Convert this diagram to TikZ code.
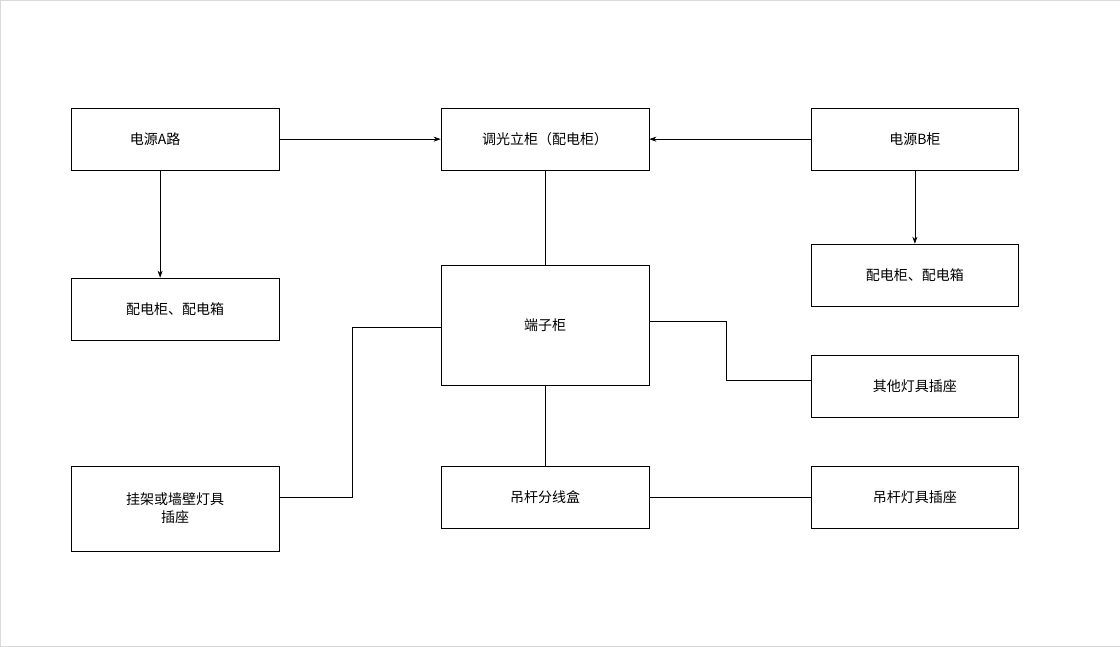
\documentclass[tikz,border=0pt]{standalone}
\usepackage{fontspec}
\newfontfamily\cjk{Noto Sans CJK SC}
\usetikzlibrary{arrows.meta,positioning}
\tikzset{
  box/.style={draw,thick,minimum width=208pt,minimum height=62pt,inner sep=2pt,font=\cjk\fontsize{14pt}{18pt}\selectfont,align=center},
  line/.style={draw,semithick},
  arr/.style={line,-{Stealth[length=7pt,width=5pt]}}
}
\begin{document}
\begin{tikzpicture}[x=1pt,y=1pt]
	\draw[black!15,fill=white] (0,0) rectangle (1120,646);
	\node[box] (srcA) at (175,507) {电源A路\hspace{40pt}};
	\node[box] (dim) at (545,507) {调光立柜（配电柜）};
	\node[box] (srcB) at (915,507) {电源B柜};
	\node[box] (boxA) at (175,337) {配电柜、配电箱};
	\node[box] (boxB) at (915,371) {配电柜、配电箱};
	\node[box,minimum height=120pt] (term) at (545,321) {端子柜};
	\node[box] (other) at (915,260) {其他灯具插座};
	\node[box,minimum height=85pt] (wall) at (175,137.5) {挂架或墙壁灯具\\插座};
	\node[box] (jbox) at (545,149) {吊杆分线盒};
	\node[box] (pend) at (915,149) {吊杆灯具插座};
	\coordinate (wA) at (352,319);
	\coordinate (wB) at (352,149);
	\coordinate (oA) at (726,325);
	\coordinate (oB) at (726,266);
	% connectors
	\draw[arr] (srcA.east) -- (dim.west);
	\draw[arr] (srcB.west) -- (dim.east);
	\draw[arr] (srcA.south -| 160,0) -- (boxA.north -| 160,0);
	\draw[arr] (srcB.south) -- (boxB.north);
	\draw[line] (dim.south) -- (term.north);
	\draw[line] (term.west |- wA) -- (wA) -- (wB) -- (wall.east |- wB);
	\draw[line] (term.east |- oA) -- (oA) -- (oB) -- (other.west |- oB);
	\draw[line] (term.south) -- (jbox.north);
	\draw[line] (jbox.east) -- (pend.west);
\end{tikzpicture}
\end{document}
